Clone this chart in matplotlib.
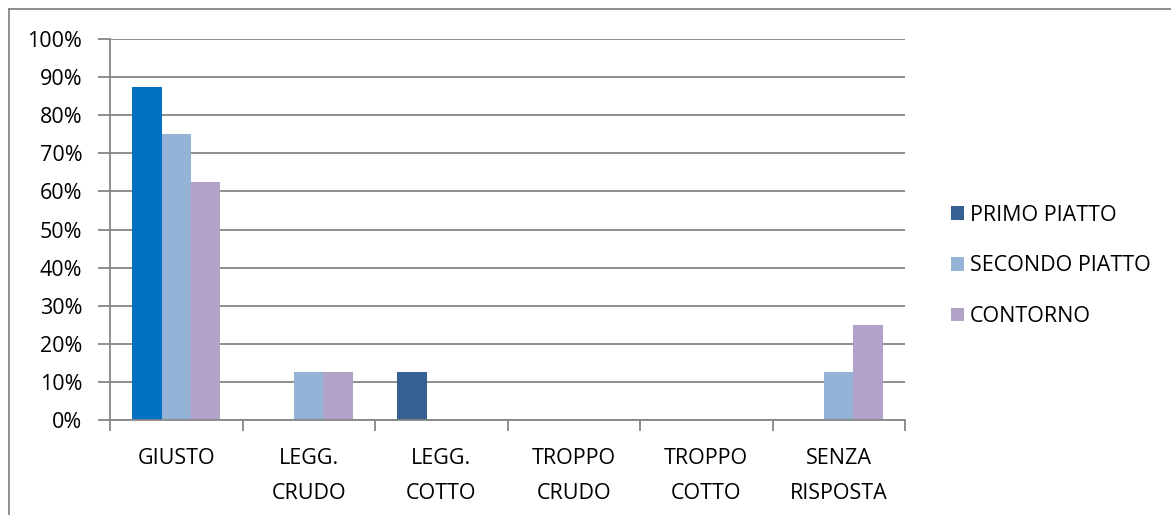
import matplotlib
matplotlib.use('Agg')
import matplotlib.pyplot as plt
from matplotlib.lines import Line2D
import numpy as np

categories = ['GIUSTO', 'LEGG.\nCRUDO', 'LEGG.\nCOTTO', 'TROPPO\nCRUDO', 'TROPPO\nCOTTO', 'SENZA\nRISPOSTA']
series_names = ['PRIMO PIATTO', 'SECONDO PIATTO', 'CONTORNO']
primo = [87.5, 0, 12.5, 0, 0, 0]
secondo = [75, 12.5, 0, 0, 0, 12.5]
contorno = [62.5, 12.5, 0, 0, 0, 25]
colors = ['#376092', '#95B3D7', '#B2A2C7']
giusto_primo_color = '#0070C0'

plt.rcParams['font.family'] = ['Open Sans', 'DejaVu Sans']
fs = 15.5

fig = plt.figure(figsize=(11.71, 5.15), dpi=100)
ax = fig.add_axes([110 / 1171, 1 - 420 / 515, 795 / 1171, 381 / 515])

x = np.arange(len(categories))
w = 0.222
containers = []
for i, (vals, col, name) in enumerate(zip([primo, secondo, contorno], colors, series_names)):
    bars = ax.bar(x + 0.5 + (i - 1) * w, vals, w, color=col, label=name, zorder=3)
    containers.append(bars)

grid_col = '#868686'
ax.set_xlim(0, len(categories))
ax.set_ylim(0, 100)
ax.set_yticks(np.arange(0, 101, 10))
ax.set_yticklabels([f'{v}%' for v in range(0, 101, 10)])
ax.yaxis.grid(True, color=grid_col, linewidth=1.3, zorder=0)
ax.set_xticks(np.arange(0, len(categories) + 1))
ax.set_xticklabels([])
ax.set_xticks(x + 0.5, minor=True)
ax.set_xticklabels(categories, minor=True, linespacing=1.85)
ax.tick_params(axis='x', which='minor', length=0, pad=20.5, labelsize=fs)
ax.tick_params(axis='x', which='major', length=8, width=1.3, color=grid_col)
ax.tick_params(axis='y', length=9, width=1.3, color=grid_col, labelsize=fs, pad=11)
for s in ['top', 'right']:
    ax.spines[s].set_visible(False)
for s in ['left', 'bottom']:
    ax.spines[s].set_color(grid_col)
    ax.spines[s].set_linewidth(1.3)
    ax.spines[s].set_zorder(4)

leg = ax.legend(loc='center left', bbox_to_anchor=(932 / 1171, 1 - 266 / 515),
                bbox_transform=fig.transFigure, frameon=False, fontsize=fs,
                handlelength=0.6, handleheight=0.6, handletextpad=0.25, labelspacing=1.38)

# the GIUSTO bar of the first series is drawn in a brighter blue (set after legend)
containers[0][0].set_facecolor(giusto_primo_color)

fig.add_artist(Line2D([9 / 1171, 1], [1 - 9 / 515, 1 - 9 / 515], color=grid_col, linewidth=1.3))
fig.add_artist(Line2D([9 / 1171, 9 / 1171], [0, 1 - 9 / 515], color=grid_col, linewidth=1.3))

fig.savefig('out.png', dpi=100)
